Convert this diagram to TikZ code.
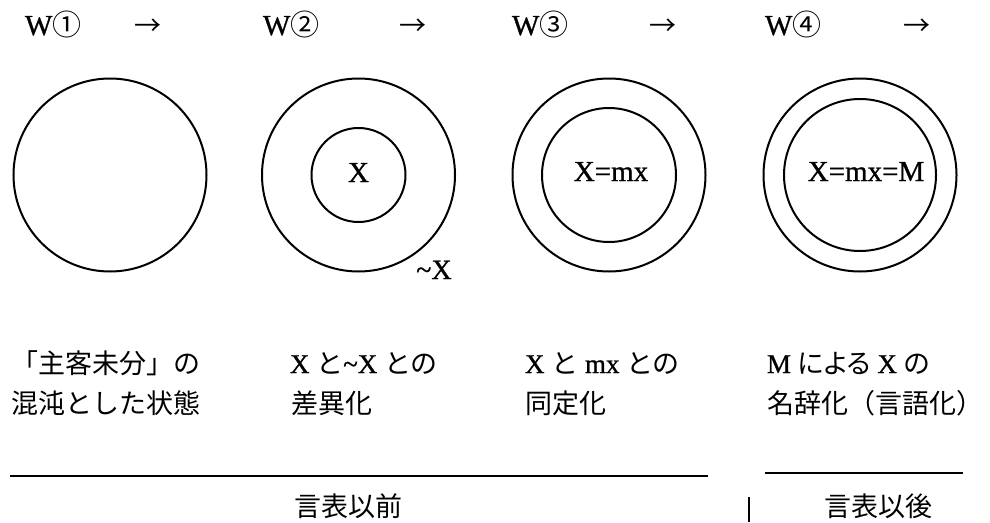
\documentclass[tikz,border=0pt]{standalone}
\usepackage{fontspec}
\setmainfont{Liberation Serif}[FakeBold=0.9]
\newfontfamily\jp{Noto Sans CJK JP}
\newfontfamily\jpp{Noto Sans CJK JP}[RawFeature=+palt]
\begin{document}
\begin{tikzpicture}[x=1pt,y=-1pt,
  ring/.style={circle,draw,line width=2pt,inner sep=0pt,outer sep=0pt},
  outerring/.style={ring,minimum size=193pt},
  txt/.style={inner sep=0pt,outer sep=0pt,anchor=base west,font=\fontsize{27}{27}\selectfont},
  ctr/.style={inner sep=0pt,outer sep=0pt,anchor=base,font=\fontsize{29}{29}\selectfont},
  head/.style={inner sep=0pt,outer sep=0pt,anchor=base west,font=\fontsize{29}{29}\selectfont},
  arr/.style={inner sep=0pt,outer sep=0pt,anchor=base,font=\fontsize{27}{27}\selectfont},
  rule/.style={line width=2pt},
  bar/.style={line width=1.2pt}]
\useasboundingbox (0,0) rectangle (990,522);

% headings
\node[head] (w1) at (25,35) {W{\jp ①}};
\node[head] (w2) at (263,35) {W{\jp ②}};
\node[head] (w3) at (512,35) {W{\jp ③}};
\node[head] (w4) at (765,35) {W{\jp ④}};
\node[arr] (a1) at (148,35) {\jp →};
\node[arr] (a2) at (413,35) {\jp →};
\node[arr] (a3) at (663,35) {\jp →};
\node[arr] (a4) at (917,35) {\jp →};

% circles
\node[outerring] (c1) at (110,175) {};
\node[outerring] (c2) at (358.5,175) {};
\node[ring,minimum size=94pt] (c2i) at (358.5,175) {};
\node[outerring] (c3) at (609,175) {};
\node[ring,minimum size=134pt] (c3i) at (609,175) {};
\node[outerring] (c4) at (860,175) {};
\node[ring,minimum size=152pt] (c4i) at (860,175) {};

\node[ctr] (x2) at (358.5,182) {X};
\node[ctr] (x3) at (611,181) {X=mx};
\node[ctr] (x4) at (866,181) {X=mx=M};
\node[ctr,font=\fontsize{28}{28}\selectfont] (nx) at (434,279) {\textasciitilde X};

% captions
\node[txt] (t1a) at (12,373) {\jp 「主客未分」の};
\node[txt] (t1b) at (12,413) {\jp 混沌とした状態};
\node[txt] (t2a) at (290,373) {X {\jp と}\textasciitilde X {\jp との}};
\node[txt] (t2b) at (291,413) {\jp 差異化};
\node[txt] (t3a) at (525,373) {X {\jp と} mx {\jp との}};
\node[txt] (t3b) at (525,413) {\jp 同定化};
\node[txt] (t4a) at (767,373) {M {\jpp による} X {\jp の}};
\node[txt] (t4b) at (767,413) {\jp 名辞化（言語化）};

% bottom rules
\coordinate (l1a) at (10,476);
\coordinate (l1b) at (708,476);
\coordinate (l2a) at (765,473);
\coordinate (l2b) at (963,473);
\coordinate (va) at (749,497);
\coordinate (vb) at (749,522);
\draw[rule] (l1a) -- (l1b);
\draw[rule] (l2a) -- (l2b);
\draw[bar] (va) -- (vb);

\node[arr,anchor=base] (pre) at (348,516) {\jp 言表以前};
\node[arr,anchor=base] (post) at (878,516) {\jp 言表以後};
\end{tikzpicture}
\end{document}
